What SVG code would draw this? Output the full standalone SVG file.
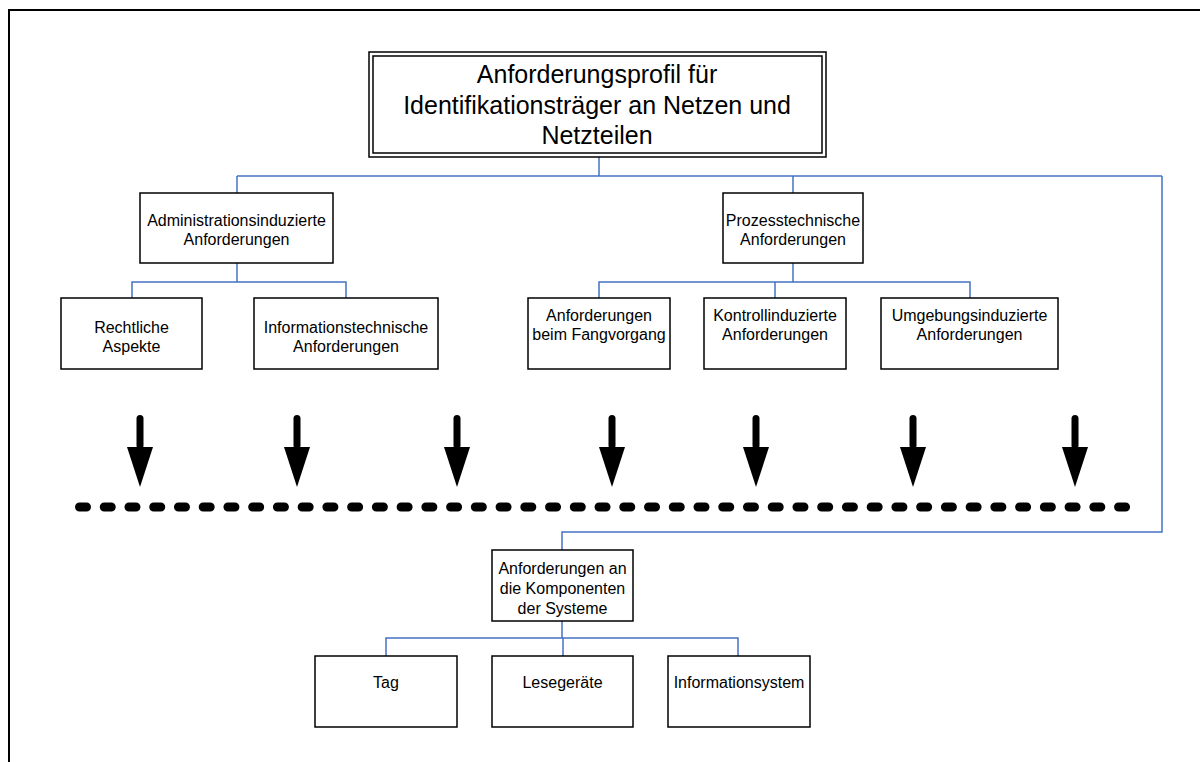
<svg xmlns="http://www.w3.org/2000/svg" width="1200" height="762" viewBox="0 0 1200 762">
<defs>
<style>
.box{fill:#fff;stroke:#000;stroke-width:1.5}
.t{font-family:"Liberation Sans",Arial,sans-serif;font-size:16px;fill:#000;text-anchor:middle}
.tt{font-family:"Liberation Sans",Arial,sans-serif;font-size:25px;fill:#000;text-anchor:middle}
.c{fill:none;stroke:#4472C4;stroke-width:1.5}
.arr{fill:#000}
</style>
<g id="downArrow">
<rect x="-3.5" y="0" width="7" height="34" rx="3.5" class="arr"/>
<polygon points="-13,32 13,32 0,72" class="arr"/>
</g>
</defs>
<rect width="1200" height="762" fill="#fff"/>
<path d="M9,762 V10 H1200" fill="none" stroke="#000" stroke-width="2"/>

<g id="connectors">
<path class="c" d="M599,157 V176"/>
<path class="c" d="M237,176 H1162"/>
<path class="c" d="M237,176 V193"/>
<path class="c" d="M793,176 V193"/>
<path class="c" d="M1162,176 V532 H562 V550"/>
<path class="c" d="M237,263 V282"/>
<path class="c" d="M132,298 V282 H346 V298"/>
<path class="c" d="M793,263 V282"/>
<path class="c" d="M599,298 V282 H970 V298"/>
<path class="c" d="M775,282 V298"/>
<path class="c" d="M562,621 V638"/>
<path class="c" d="M386,656 V638 H738 V656"/>
<path class="c" d="M563,638 V656"/>
</g>

<g id="title">
<rect x="369" y="52" width="457" height="105" class="box"/>
<rect x="373" y="56" width="449" height="97" class="box"/>
<text class="tt" x="597" y="83">Anforderungsprofil für</text>
<text class="tt" x="597" y="114">Identifikationsträger an Netzen und</text>
<text class="tt" x="597" y="144">Netzteilen</text>
</g>

<g id="admin">
<rect x="140" y="193" width="193" height="70" class="box"/>
<text class="t" x="236.5" y="226">Administrationsinduzierte</text>
<text class="t" x="236.5" y="245">Anforderungen</text>
</g>

<g id="prozess">
<rect x="723" y="193" width="140" height="70" class="box"/>
<text class="t" x="793" y="226">Prozesstechnische</text>
<text class="t" x="793" y="245">Anforderungen</text>
</g>

<g id="rechtliche">
<rect x="61" y="298" width="141" height="71" class="box"/>
<text class="t" x="131.5" y="333">Rechtliche</text>
<text class="t" x="131.5" y="352">Aspekte</text>
</g>

<g id="infotech">
<rect x="254" y="298" width="184" height="71" class="box"/>
<text class="t" x="346" y="333">Informationstechnische</text>
<text class="t" x="346" y="352">Anforderungen</text>
</g>

<g id="fang">
<rect x="528" y="298" width="142" height="71" class="box"/>
<text class="t" x="599" y="321">Anforderungen</text>
<text class="t" x="599" y="340">beim Fangvorgang</text>
</g>

<g id="kontroll">
<rect x="704" y="298" width="142" height="71" class="box"/>
<text class="t" x="775" y="321">Kontrollinduzierte</text>
<text class="t" x="775" y="340">Anforderungen</text>
</g>

<g id="umgebung">
<rect x="881" y="298" width="177" height="71" class="box"/>
<text class="t" x="969.5" y="321">Umgebungsinduzierte</text>
<text class="t" x="969.5" y="340">Anforderungen</text>
</g>

<g id="arrows">
<use href="#downArrow" x="140" y="415"/>
<use href="#downArrow" x="297" y="415"/>
<use href="#downArrow" x="457" y="415"/>
<use href="#downArrow" x="612" y="415"/>
<use href="#downArrow" x="756" y="415"/>
<use href="#downArrow" x="913" y="415"/>
<use href="#downArrow" x="1075" y="415"/>
</g>

<line id="separator" x1="79.5" y1="507" x2="1125.6" y2="507" stroke="#000" stroke-width="9" stroke-linecap="round" stroke-dasharray="7 17.74"/>

<g id="komponenten">
<rect x="492" y="550" width="141" height="71" class="box"/>
<text class="t" x="562.5" y="574">Anforderungen an</text>
<text class="t" x="562.5" y="594">die Komponenten</text>
<text class="t" x="562.5" y="614">der Systeme</text>
</g>

<g id="tag">
<rect x="315" y="656" width="142" height="71" class="box"/>
<text class="t" x="386" y="688">Tag</text>
</g>

<g id="lesegeraete">
<rect x="492" y="656" width="141" height="71" class="box"/>
<text class="t" x="562.5" y="688">Lesegeräte</text>
</g>

<g id="infosys">
<rect x="668" y="656" width="142" height="71" class="box"/>
<text class="t" x="739" y="688">Informationsystem</text>
</g>
</svg>
